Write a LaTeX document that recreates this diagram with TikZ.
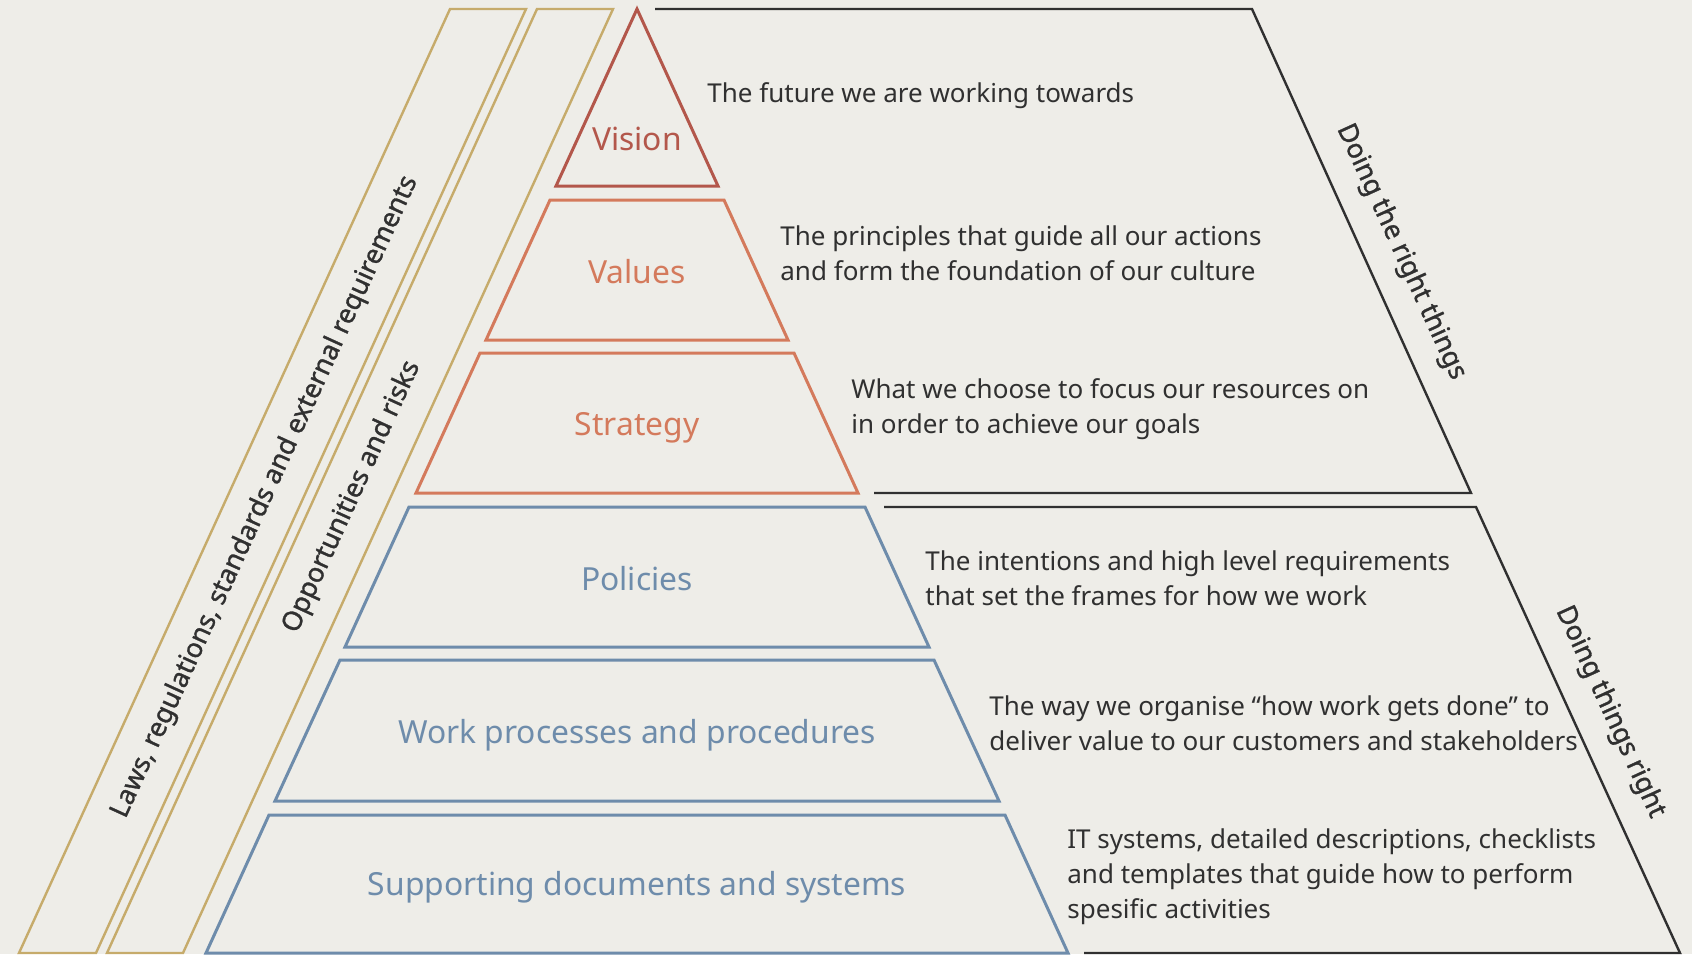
\documentclass[tikz,border=0pt]{standalone}
\usepackage{fontspec}
\setmainfont{Noto Sans}
\newfontfamily\sidefont{Noto Sans}[BoldFont={Noto Sans},BoldFeatures={FakeBold=1.2}]
\definecolor{paper}{HTML}{EEEDE8}
\definecolor{ink}{HTML}{303030}
\definecolor{rust}{HTML}{B3574B}
\definecolor{coral}{HTML}{D47A5C}
\definecolor{steel}{HTML}{6E8CAB}
\definecolor{sand}{HTML}{C6AB6B}

\begin{document}
\begin{tikzpicture}[x=0.5pt,y=-0.5pt,
    desc/.style={anchor=west,align=left,inner sep=0pt,text=ink,font=\fontsize{13pt}{17.5pt}\selectfont},
    tier/.style={font=\fontsize{15.9pt}{18pt}\selectfont},
    side/.style={text=ink,font=\sidefont\bfseries\fontsize{13.4pt}{15pt}\selectfont}]
    % Background
    \fill[paper] (0,0) rectangle (1692,954);
    \useasboundingbox (0,0) rectangle (1692,954);

    % Outer conditions (bands on the left)
    \begin{scope}[sand,line width=1.2pt]
      \draw (450,9) -- (526,9) -- (96,953) -- (19,953) -- cycle;
      \draw (537,9) -- (613,9) -- (183,953) -- (107,953) -- cycle;
      \node[side,rotate=65.44] (laws) at (265,497) {Laws, regulations, standards and external requirements};
      \node[side,rotate=65.44] (risks) at (352,497) {Opportunities and risks};
    \end{scope}

    % Vision, Values, Strategy
    \begin{scope}[line width=1.5pt]
      \draw[rust] (637,9) -- (718,186) -- (556,186) -- cycle;
      \node[tier,text=rust] (vision) at (637,139) {Vision};
      \draw[coral] (550,200) -- (724,200) -- (788,340) -- (486,340) -- cycle;
      \node[tier,text=coral] (values) at (637,272) {Values};
      \draw[coral] (480,353) -- (794,353) -- (858,493) -- (416,493) -- cycle;
      \node[tier,text=coral] (strategy) at (637,428) {Strategy};
    \end{scope}

    % Policies, Work processes, Supporting documents
    \begin{scope}[steel,line width=1.5pt]
      \draw (409,507) -- (865,507) -- (929,647) -- (345,647) -- cycle;
      \node[tier] (policies) at (637,579) {Policies};
      \draw (340,660) -- (934,660) -- (999,801) -- (275,801) -- cycle;
      \node[tier] (work) at (637,735) {Work processes and procedures};
      \draw (269,815) -- (1005,815) -- (1068,953) -- (206,953) -- cycle;
      \node[tier] (docs) at (637,887) {Supporting documents and systems};
    \end{scope}

    % Doing the right things
    \begin{scope}[ink,line width=1.2pt]
      \draw (655,9) -- (1252,9) -- (1471,493) -- (874,493);
      \node[side,rotate=-65.44] (rightthings) at (1401,252) {Doing the right things};
      \draw (884,507) -- (1476,507) -- (1680,953) -- (1084,953);
      \node[side,rotate=-65.44] (thingsright) at (1610,712) {Doing things right};
    \end{scope}

    % Descriptions
    \node[desc] (dvision) at (707,96) {The future we are working towards};
    \node[desc] (dvalues) at (780,253) {The principles that guide all our actions\\and form the foundation of our culture};
    \node[desc] (dstrategy) at (851,409) {What we choose to focus our resources on\\in order to achieve our goals};
    \node[desc] (dpolicies) at (925,578) {The intentions and high level requirements\\that set the frames for how we work};
    \node[desc] (dwork) at (989,723) {The way we organise “how work gets done” to\\deliver value to our customers and stakeholders};
    \node[desc] (ddocs) at (1067,877) {IT systems, detailed descriptions, checklists\\and templates that guide how to perform\\spesific activities};
  \end{tikzpicture}
\end{document}
